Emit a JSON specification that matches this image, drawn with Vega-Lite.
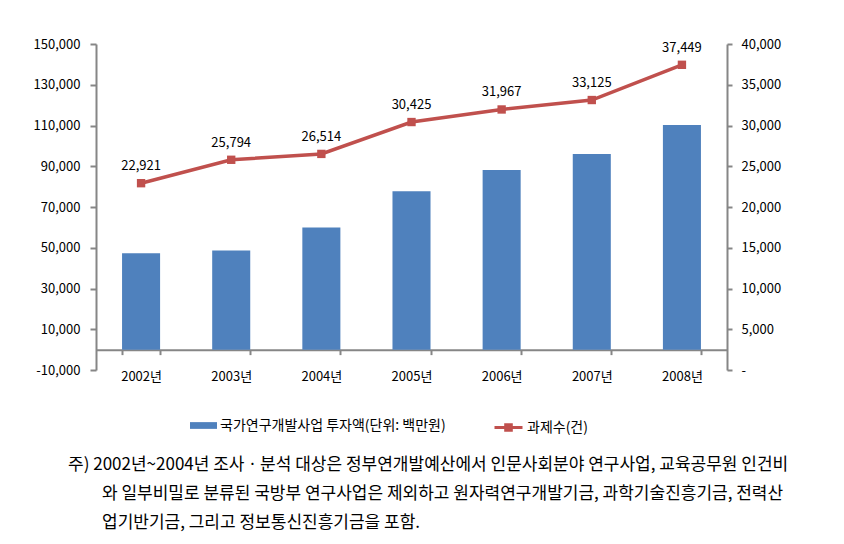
{
  "$schema": "https://vega.github.io/schema/vega-lite/v6.json",
  "width": 631,
  "height": 326,
  "autosize": {"type": "none"},
  "padding": {"left": 96, "top": 44, "right": 117, "bottom": 174},
  "background": "white",
  "config": {
    "view": {"stroke": null},
    "font": "Noto Sans CJK KR",
    "axis": {
      "grid": false,
      "domainColor": "#868686",
      "tickColor": "#868686",
      "domainWidth": 2,
      "tickWidth": 2,
      "labelColor": "#000000",
      "labelFont": "Noto Sans CJK KR",
      "labelFontSize": 13
    },
    "legend": {
      "labelFont": "Noto Sans CJK KR",
      "labelFontSize": 14,
      "labelColor": "#000000",
      "labelLimit": 0,
      "orient": "none",
      "title": null
    }
  },
  "title": {
    "text": [
      "주) 2002년~2004년 조사ㆍ분석 대상은 정부연개발예산에서 인문사회분야 연구사업, 교육공무원 인건비",
      "\u200b\u3000\u3000와 일부비밀로 분류된 국방부 연구사업은 제외하고 원자력연구개발기금, 과학기술진흥기금, 전력산",
      "\u200b\u3000\u3000업기반기금, 그리고 정보통신진흥기금을 포함."
    ],
    "orient": "bottom",
    "anchor": "start",
    "frame": "group",
    "dx": -28,
    "offset": 20,
    "font": "Noto Sans CJK KR",
    "fontSize": 17,
    "fontWeight": "normal",
    "color": "#000000",
    "lineHeight": 29
  },
  "data": {
    "values": [
      {"year": "2002년", "invest": 47300, "count": 22921},
      {"year": "2003년", "invest": 48700, "count": 25794},
      {"year": "2004년", "invest": 60000, "count": 26514},
      {"year": "2005년", "invest": 77700, "count": 30425},
      {"year": "2006년", "invest": 88100, "count": 31967},
      {"year": "2007년", "invest": 96000, "count": 33125},
      {"year": "2008년", "invest": 110200, "count": 37449}
    ]
  },
  "encoding": {
    "x": {
      "field": "year",
      "type": "nominal",
      "sort": null,
      "scale": {"paddingInner": 0.578, "paddingOuter": 0.289},
      "axis": {
        "title": null,
        "labelAngle": 0,
        "offset": -20.375,
        "tickBand": "extent",
        "tickSize": 5,
        "labelPadding": 16
      }
    }
  },
  "layer": [
    {
      "mark": {"type": "bar", "color": "#4F81BD"},
      "encoding": {
        "y": {
          "field": "invest",
          "type": "quantitative",
          "scale": {"domain": [-10000, 150000], "nice": false},
          "axis": {
            "title": null,
            "values": [-10000, 10000, 30000, 50000, 70000, 90000, 110000, 130000, 150000],
            "labelExpr": "replace(format(datum.value, ','), '\u2212', '-')",
            "tickSize": 6,
            "labelPadding": 10
          }
        },
        "y2": {"datum": 0},
        "color": {
          "datum": "국가연구개발사업 투자액(단위: 백만원)",
          "scale": {"range": ["#4F81BD"]},
          "legend": {
            "symbolType": "M-1,-0.25H1V0.25H-1Z",
            "symbolSize": 729,
            "symbolStrokeWidth": 0,
            "symbolFillColor": "#4F81BD",
            "labelOffset": 3,
            "legendX": 94,
            "legendY": 368
          }
        }
      }
    },
    {
      "encoding": {
        "y": {
          "field": "count",
          "type": "quantitative",
          "scale": {"domain": [0, 40000], "nice": false},
          "axis": {
            "title": null,
            "orient": "right",
            "values": [0, 5000, 10000, 15000, 20000, 25000, 30000, 35000, 40000],
            "labelExpr": "datum.value === 0 ? '-' : format(datum.value, ',')",
            "tickSize": 5,
            "labelPadding": 9
          }
        }
      },
      "layer": [
        {
          "mark": {
            "type": "line",
            "strokeWidth": 3.5,
            "point": {"shape": "square", "filled": true, "size": 70}
          },
          "encoding": {
            "color": {
              "datum": "과제수(건)",
              "scale": {"range": ["#C0504D"]},
              "legend": {
                "symbolType": "M-1,0H1M-0.2,-0.2H0.2V0.2H-0.2Z",
                "symbolSize": 784,
                "symbolStrokeWidth": 3,
                "symbolStrokeColor": "#C0504D",
                "symbolFillColor": "#C0504D",
                "labelOffset": 3,
                "legendX": 397,
                "legendY": 368
              }
            }
          }
        },
        {
          "mark": {"type": "text", "dy": -17, "fontSize": 13, "color": "#000000", "font": "Noto Sans CJK KR"},
          "encoding": {
            "text": {"field": "count", "type": "quantitative", "format": ","}
          }
        }
      ]
    }
  ],
  "resolve": {"scale": {"y": "independent", "color": "independent"}}
}
